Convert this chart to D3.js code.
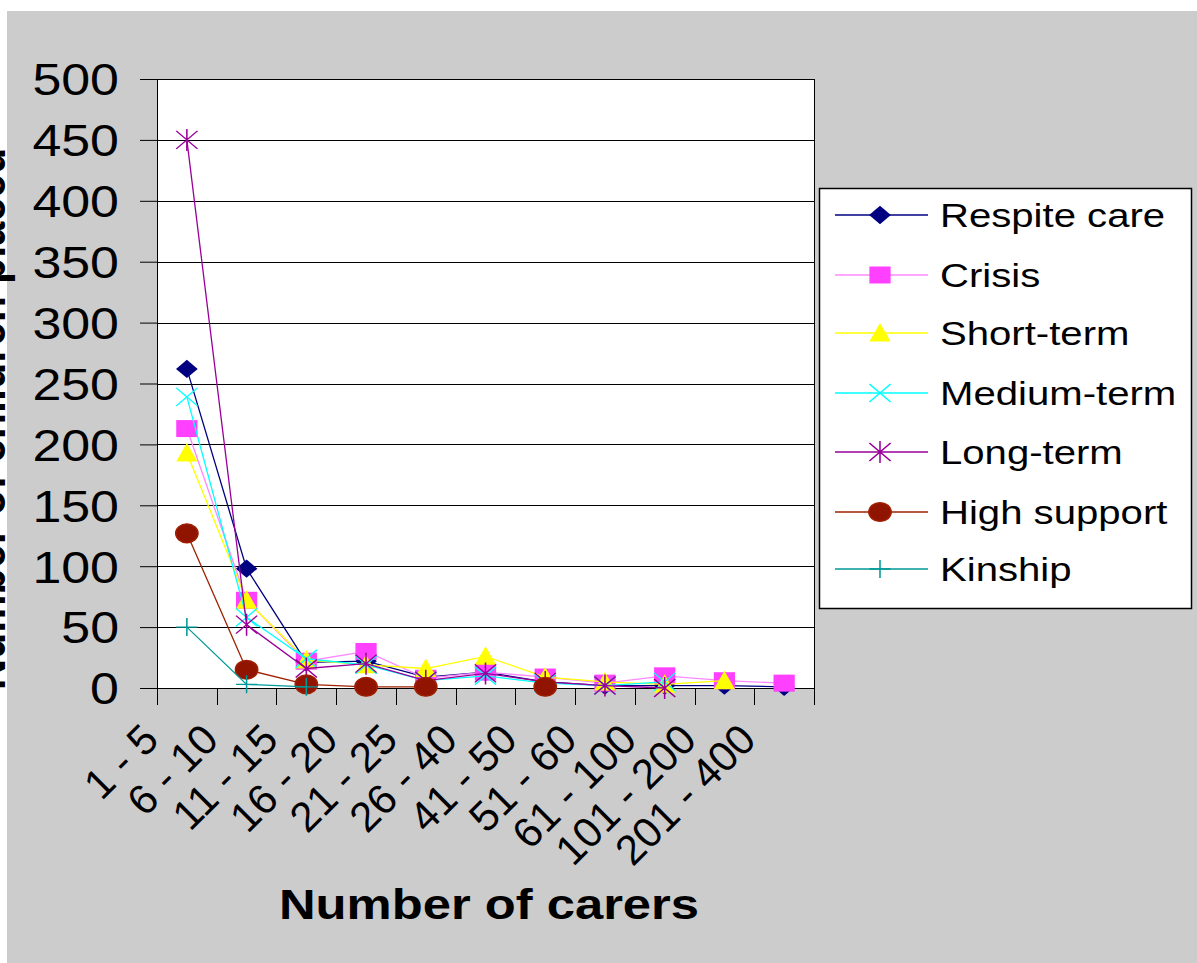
<!DOCTYPE html>
<html><head><meta charset="utf-8">
<script src="https://cdn.jsdelivr.net/npm/d3@7"></script>
<style>html,body{margin:0;padding:0;background:#fff;}svg{display:block;}</style>
</head><body>
<svg id="chart" width="1197" height="963"></svg>
<script>
const categories = ["1 - 5","6 - 10","11 - 15","16 - 20","21 - 25","26 - 40","41 - 50","51 - 60","61 - 100","101 - 200","201 - 400"];
const yTicks = [0,50,100,150,200,250,300,350,400,450,500];
const seriesNames = ["Respite care","Crisis","Short-term","Medium-term","Long-term","High support","Kinship"];
const respite     = [262, 98, 21, 22, 9, 13, 5, 2, 2, 2, 1];
const crisis      = [213, 72, 22, 30, 8, 13, 9, 4, 10, 6, 4];
const shortTerm   = [193, 72, 23, 19, 16, 26, 9, 5, 3, 6, null];
const mediumTerm  = [239, 58, 24, 19, 6, 10, 4, 2, 5, null, null];
const longTerm    = [450, 52, 16, 20, 6, 12, 5, 2, 0, null, null];
const highSupport = [127, 15, 3, 1, 1, null, 1, null, null, null, null];
const kinship     = [50, 3, 1, null, null, null, null, null, null, null, null];
const xTitle = "Number of carers";
const yTitle = "Number of children placed";

(function(){
const SX = 1.18; // horizontal stretch of the original picture
const svg = d3.select("#chart");
const font = "Arial, 'Liberation Sans', sans-serif";

svg.append("rect").attr("x",7).attr("y",11).attr("width",1197-7).attr("height",963-11).attr("fill","#cccccc");

const pL=157, pR=814, pT=79, pB=688;
const x = d3.scaleBand().domain(categories).range([pL,pR]).padding(0);
const y = d3.scaleLinear().domain([0,500]).range([pB,pT]);

svg.append("rect").attr("x",pL).attr("y",pT).attr("width",pR-pL).attr("height",pB-pT).attr("fill","#fff");

svg.append("g").selectAll("line").data(yTicks.filter(d=>d>0)).join("line")
  .attr("x1",pL).attr("x2",pR).attr("y1",d=>Math.round(y(d))+0.5).attr("y2",d=>Math.round(y(d))+0.5)
  .attr("stroke","#000").attr("stroke-width",1);
svg.append("line").attr("x1",pR+0.5).attr("x2",pR+0.5).attr("y1",pT).attr("y2",pB).attr("stroke","#000");

// Y axis
const yAxis = d3.axisLeft(y).tickValues(yTicks).tickSize(17).tickFormat(d3.format("d"));
const yg = svg.append("g").attr("transform",`translate(${pL},0)`).call(yAxis);
yg.select(".domain").attr("stroke","#000");
yg.selectAll(".tick line").attr("stroke","#000");
yg.selectAll(".tick text").remove();
yg.selectAll(".tick").append("text")
  .attr("transform",`translate(-38,0) scale(${SX},1)`)
  .attr("dy","0.36em").attr("text-anchor","end")
  .attr("font-family",font).attr("font-size",44).attr("fill","#000")
  .text(d=>d);

// X axis: ticks between categories
const boundaries = d3.range(categories.length+1).map(i=>pL + i*x.bandwidth());
const xg = svg.append("g");
xg.append("line").attr("x1",pL).attr("x2",pR).attr("y1",pB+0.5).attr("y2",pB+0.5).attr("stroke","#000");
xg.selectAll("line.t").data(boundaries).join("line").attr("class","t")
  .attr("x1",d=>Math.round(d)+0.5).attr("x2",d=>Math.round(d)+0.5).attr("y1",pB).attr("y2",pB+17).attr("stroke","#000");
xg.selectAll("text").data(categories).join("text")
  .attr("transform",d=>`translate(${x(d)+x.bandwidth()/2-26},742) rotate(-45)`)
  .attr("text-anchor","end").attr("font-family",font).attr("font-size",42).attr("fill","#000")
  .text(d=>d);

// titles
svg.append("text").attr("transform",`translate(489,919) scale(${SX},1)`).attr("text-anchor","middle")
  .attr("font-family",font).attr("font-weight","bold").attr("font-size",43).attr("fill","#000").text(xTitle);
svg.append("text").attr("transform",`translate(5,690) scale(${SX},1) rotate(-90)`).attr("text-anchor","start")
  .attr("font-family",font).attr("font-weight","bold").attr("font-size",43).attr("fill","#000").text(yTitle);

// series
const seriesData = [respite,crisis,shortTerm,mediumTerm,longTerm,highSupport,kinship];
const styles = [
  {line:"#000080", fill:"#000080", stroke:"none", sym:"diamond"},
  {line:"#ff88ff", fill:"#ff40ff", stroke:"none", sym:"square"},
  {line:"#ffff00", fill:"#ffff00", stroke:"none", sym:"triangle"},
  {line:"#00ffff", fill:"none", stroke:"#00ffff", sym:"x"},
  {line:"#990099", fill:"none", stroke:"#990099", sym:"star"},
  {line:"#a02000", fill:"#901400", stroke:"#a02000", sym:"circle"},
  {line:"#009999", fill:"none", stroke:"#009999", sym:"plus"}
];
function markerPath(sym){
  switch(sym){
    case "diamond": return "M0,-9.2L9.2,0L0,9.2L-9.2,0Z";
    case "square": return "M-9,-8.5H9V8.5H-9Z";
    case "triangle": return "M0,-10L9,8.5H-9Z";
    case "x": return "M-9,-9L9,9M-9,9L9,-9";
    case "star": return "M-9,-9L9,9M-9,9L9,-9M0,-11V11";
    case "circle": return d3.symbol(d3.symbolCircle, 280)();
    case "plus": return "M-9,0H9M0,-9V9";
  }
}
const cx = (i)=>x(categories[i])+x.bandwidth()/2;
const line = d3.line().defined(d=>d.v!==null).x(d=>cx(d.i)).y(d=>y(d.v));
const plotG = svg.append("g");
seriesData.forEach((vals,k)=>{
  const pts = vals.map((v,i)=>({v,i}));
  const st = styles[k];
  const g = plotG.append("g");
  g.append("path").attr("d",line(pts)).attr("fill","none").attr("stroke",st.line).attr("stroke-width",1.3);
  g.selectAll("path.m").data(pts.filter(d=>d.v!==null)).join("path").attr("class","m")
    .attr("transform",d=>`translate(${cx(d.i)},${y(d.v)}) scale(${SX},1)`)
    .attr("d",markerPath(st.sym)).attr("fill",st.fill).attr("stroke",st.stroke).attr("stroke-width",1.3);
});

// legend
const lg = svg.append("g");
lg.append("rect").attr("x",819.5).attr("y",188.5).attr("width",372).attr("height",420).attr("fill","#fff").attr("stroke","#000").attr("stroke-width",1.5);
const rowY = [215,275,333,393,452,512,569];
seriesNames.forEach((name,k)=>{
  const st = styles[k];
  const ry = rowY[k];
  lg.append("line").attr("x1",835).attr("x2",928).attr("y1",ry).attr("y2",ry).attr("stroke",st.line).attr("stroke-width",1.3);
  lg.append("path").attr("transform",`translate(880,${ry}) scale(${SX},1)`).attr("d",markerPath(st.sym))
    .attr("fill",st.fill).attr("stroke",st.stroke).attr("stroke-width",1.3);
  lg.append("text").attr("transform",`translate(940,${ry+12}) scale(${SX},1)`)
    .attr("font-family",font).attr("font-size",34).attr("fill","#000").text(name);
});
})();
</script>
</body></html>
